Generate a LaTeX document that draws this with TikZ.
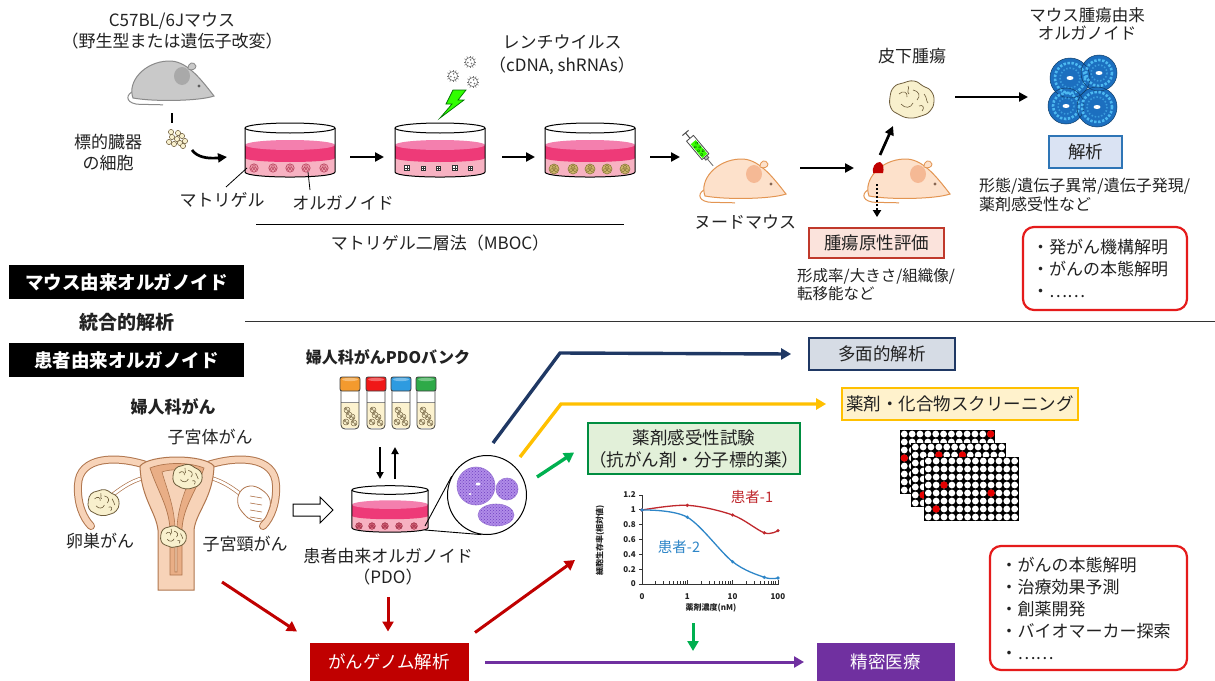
\documentclass[tikz,border=0pt]{standalone}
\usepackage{fontspec}
\setmainfont{Noto Sans CJK JP}
\usetikzlibrary{arrows.meta,calc,patterns}

\definecolor{ink}{HTML}{222222}
\definecolor{navyline}{HTML}{1F3864}
\definecolor{navyfill}{HTML}{D6DCE5}
\definecolor{goldline}{HTML}{FFC000}
\definecolor{goldfill}{HTML}{FFF2CC}
\definecolor{greenline}{HTML}{00B050}
\definecolor{greenfill}{HTML}{E2F0D9}
\definecolor{genomered}{HTML}{C00000}
\definecolor{violet}{HTML}{7030A0}
\definecolor{bluebox}{HTML}{2E75B6}
\definecolor{blueboxfill}{HTML}{DAE3F3}
\definecolor{evalline}{HTML}{C0392B}
\definecolor{evalfill}{HTML}{FBE3DC}
\definecolor{listred}{HTML}{E51B1B}
\definecolor{medium}{HTML}{EE3A78}
\definecolor{mediumtop}{HTML}{F47FAE}
\definecolor{matrigel}{HTML}{F7B2C2}
\definecolor{greyfur}{HTML}{C9C9C9}
\definecolor{greyline}{HTML}{8A8A8A}
\definecolor{greypatch}{HTML}{A9A9A9}
\definecolor{nudeskin}{HTML}{FDE1CB}
\definecolor{nudeline}{HTML}{E39552}
\definecolor{nudepatch}{HTML}{F5B995}
\definecolor{tumourfill}{HTML}{F8F0CD}
\definecolor{tumourline}{HTML}{6E5D3C}
\definecolor{uterusfill}{HTML}{F7D3B8}
\definecolor{uterusline}{HTML}{B0764E}
\definecolor{uteruscav}{HTML}{E9AE86}
\definecolor{orgblue}{HTML}{1C6FBF}
\definecolor{orgbluelight}{HTML}{4CB8F0}
\definecolor{pdopurple}{HTML}{B08CE8}
\definecolor{pdopurpledark}{HTML}{7040C0}
\definecolor{curvered}{HTML}{C0282D}
\definecolor{curveblue}{HTML}{2E86C8}
\definecolor{vialliquid}{HTML}{FCF2CF}
\definecolor{capA}{HTML}{F39A2E}
\definecolor{capB}{HTML}{F01818}
\definecolor{capC}{HTML}{2E9BE0}
\definecolor{capD}{HTML}{2EAA48}
\definecolor{orgpink}{HTML}{F0A0AE}
\definecolor{orgpinkline}{HTML}{B5405C}
\definecolor{orgolive}{HTML}{CDB46A}
\definecolor{orgoliveline}{HTML}{8A7A3A}
\definecolor{orgrose}{HTML}{E8778A}
\definecolor{orgroseline}{HTML}{A03048}

\tikzset{
  lab/.style={font=\fontsize{17}{21}\selectfont, inner sep=0pt, align=center, text=ink},
  labl/.style={lab, align=left},
  bigbar/.style={fill=black, text=white, font=\fontsize{18.5}{22}\selectfont\bfseries,
    minimum width=235pt, minimum height=34pt, inner sep=0pt},
  flow/.style={-{Triangle[length=9pt,width=9pt]}, line width=2.7pt, draw=black},
  cflow/.style={-{Triangle[length=10pt,width=11pt]}, line width=3.4pt, draw=#1},
  tbox/.style n args={2}{draw=#1, fill=#2, line width=1.8pt, inner sep=0pt,
    font=\fontsize{17.5}{22}\selectfont, align=center, text=ink},
  listbox/.style={draw=listred, line width=2.2pt, rounded corners=11pt, inner sep=0pt,
    font=\fontsize{17}{22}\selectfont, align=left, text=ink},
  chartlab/.style={font=\fontsize{8}{9}\selectfont\bfseries, inner sep=0pt, text=ink},
  % a cartoon mouse facing right: fur, outline, ear patch
  pics/mouse/.style n args={3}{code={
    \draw[#2, line width=1pt] (4,31) .. controls (-4,34) and (-5,42) .. (6,44)
      .. controls (14,45) and (24,44) .. (33,45);
    \draw[fill=#1, draw=#2, line width=1pt] (3,38) .. controls (-3,22) and (14,2) .. (38,1)
      .. controls (56,0) and (70,18) .. (84,36) .. controls (70,41) and (25,42) .. (3,38) -- cycle;
    \fill[#3] (52,16) ellipse (8 and 9);
    \draw[fill=#1, draw=#2, line width=0.8pt] (58,9) .. controls (58,2) and (64,1) .. (66,6)
      .. controls (66,9) and (62,11) .. (58,9);
    \fill[#3!55!black] (69,26) circle (1.6);
  }},
  % culture dish with medium over a matrigel layer
  pics/dish/.style={code={
    \fill[white] (-45,0) rectangle (45,44);
    \fill[matrigel] (-45,30) rectangle (45,44);
    \fill[matrigel] (0,44) ellipse (45 and 5);
    \fill[medium] (-45,17) rectangle (45,30);
    \fill[medium] (0,30) ellipse (45 and 4);
    \fill[mediumtop] (0,17) ellipse (45 and 5);
    \draw[line width=1pt] (0,0) ellipse (45 and 5);
    \draw[line width=1pt] (-45,0) -- (-45,44) .. controls (-45,50.7) and (45,50.7) .. (45,44) -- (45,0);
  }},
  pics/orgd/.style n args={3}{code={
    \draw[fill=#1, draw=#2, line width=0.6pt] (0,0) circle (#3);
    \foreach \a in {30,150,270}{\draw[#2, line width=0.45pt] (\a:{#3*0.45}) circle ({#3*0.36});}
  }},
  pics/tumour/.style={code={
    \draw[fill=tumourfill, draw=tumourline, line width=0.8pt] plot[smooth cycle, tension=0.8]
      coordinates {(-21,-3) (-17,-13) (-8,-17) (3,-19) (12,-14) (20,-9) (23,1) (19,11) (10,16) (-2,18) (-13,14) (-20,8)};
    \draw[tumourline, line width=0.6pt] (-12,-6) .. controls (-8,-10) and (-3,-8) .. (-4,-3);
    \draw[tumourline, line width=0.6pt] (2,-10) .. controls (8,-9) and (10,-4) .. (6,0);
    \draw[tumourline, line width=0.6pt] (-10,4) .. controls (-6,9) and (0,8) .. (2,3);
    \draw[tumourline, line width=0.6pt] (8,6) .. controls (12,4) and (14,8) .. (11,11);
    \draw[tumourline, line width=0.6pt] (-3,-14) .. controls (-1,-12) and (-5,-8) .. (-2,-6);
    \draw[tumourline, line width=0.6pt] (13,-6) .. controls (16,-3) and (15,1) .. (17,3);
  }},
  pics/virus/.style={code={
    \foreach \a in {0,30,...,330}{\draw[black!55, line width=0.5pt] (\a:4.2) -- (\a:6.4);}
    \draw[black!55, fill=white, line width=0.6pt] (0,0) circle (4.6);
    \foreach \a in {45,165,285}{\fill[black!55] (\a:2.2) circle (0.9);}
  }},
  pics/vial/.style={code={
    \fill[white] (1,13) rectangle (19,51);
    \fill[vialliquid] (1,25) rectangle (19,51);
    \draw[black!45, line width=0.5pt] (1,25) -- (19,25);
    \foreach \ox/\oy in {7/33, 12/40, 6/45, 14/46, 9/38}{
      \draw[fill=tumourfill, draw=tumourline, line width=0.45pt] (\ox,\oy) circle (3);
      \draw[tumourline, line width=0.35pt] (\ox-1,\oy-1) circle (1.1) (\ox+1.2,\oy+0.8) circle (1);
    }
    \draw[black!75, line width=0.8pt, rounded corners=4pt] (1,13) -- (1,52) -- (19,52) -- (19,13);
    \draw[fill=#1, draw=black!75, line width=0.8pt, rounded corners=2pt] (0,0) rectangle (20,14);
    \fill[white, opacity=0.35] (10,2.5) ellipse (8 and 1.6);
  }},
  pics/plate/.style={code={
    \fill[black] (0,0) rectangle (95,64);
    \foreach \i in {0,...,11}{\foreach \j in {0,...,7}{
      \fill[white] ({4.3+7.85*\i},{4+8*\j}) circle (3.4);}}
    \foreach \i/\j in {#1}{\fill[red!90!black] ({4.3+7.85*\i},{4+8*\j}) circle (3.7);}
  }},
}

\begin{document}
\begin{tikzpicture}[x=1pt,y=-1pt]
\useasboundingbox (0,0) rectangle (1215,680);
\fill[white] (0,0) rectangle (1215,680);

%% ---------------- mouse-derived organoids (top) ----------------
\node[lab] (mouseTitle) at (172,31) {C57BL/6Jマウス\\（野生型または遺伝子改変）};
\pic (greymouse) at (130,60) {mouse={greyfur}{greyline}{greypatch}};
\coordinate (tickTop) at (172,113);
\coordinate (tickBot) at (172,123);
\draw[line width=2.7pt] (tickTop) -- (tickBot);
\foreach \ox/\oy in {0/0,5/-3,-5/-2,3/4,-3/5,8/2,-8/3,1/-6,6/7,-6/-7}{
  \draw[fill=tumourfill, draw=tumourline, line width=0.5pt] (177+\ox,139+\oy) circle (2.6);}
\node[lab] (organCells) at (108,153) {標的臓器\\の細胞};
\coordinate (cellsOut) at (192,150);
\coordinate (dishOneIn) at (227,157);
\draw[flow] (cellsOut) .. controls (197,157) and (207,159) .. (dishOneIn);

\pic (dishOne) at (290,128) {dish};
\foreach \ox in {-36,-17,0,16,34}{\pic at (290+\ox,168) {orgd={orgpink}{orgpinkline}{4.2}};}
\pic (dishTwo) at (440,128) {dish};
\foreach \ox/\s in {-33/2.3,-17/2,-2/1.8,15/2.4,30/2.2}{
  \draw[fill=white, draw=black!80, line width=0.5pt] (440+\ox-\s,168-\s) rectangle (440+\ox+\s,168+\s);
  \draw[black!80, line width=0.4pt] (440+\ox,168-\s) -- (440+\ox,168+\s) (440+\ox-\s,168) -- (440+\ox+\s,168);}
\pic (dishThree) at (590,128) {dish};
\foreach \ox in {-36,-17,0,17,35}{\pic at (590+\ox,169) {orgd={orgolive}{orgoliveline}{5}};}

\node[lab] (matrigelLbl) at (222,200) {マトリゲル};
\coordinate (matrigelTip) at (247,168);
\draw[line width=0.8pt] (226,187) -- (matrigelTip);
\node[lab] (organoidLbl) at (343,203) {オルガノイド};
\coordinate (organoidTip) at (308,172);
\draw[line width=0.8pt] (310,190) -- (organoidTip);

\coordinate (dOneOut) at (350,157);  \coordinate (dTwoIn) at (384,157);
\coordinate (dTwoOut) at (502,157);  \coordinate (dThreeIn) at (535,157);
\coordinate (dThreeOut) at (650,157); \coordinate (nudeIn) at (680,157);
\draw[flow] (dOneOut) -- (dTwoIn);
\draw[flow] (dTwoOut) -- (dThreeIn);
\draw[flow] (dThreeOut) -- (nudeIn);

\coordinate (mbocL) at (256,224); \coordinate (mbocR) at (624,224);
\draw[line width=1pt] (mbocL) -- (mbocR);
\node[lab] (mbocLbl) at (440,243) {マトリゲル二層法（MBOC）};

\node[lab] (lentiLbl) at (562,55) {レンチウイルス\\[2pt]（cDNA, shRNAs）};
\pic at (470,62) {virus};
\pic at (453,76) {virus};
\pic at (473,82) {virus};
\draw[fill=green!75!lime, draw=green!45!black, line width=0.7pt]
  (453,90) -- (466,90) -- (458,100) -- (464,100) -- (440,118) -- (452,104) -- (446,104) -- cycle;

% syringe
\begin{scope}[shift={(699,149)}, rotate=-50]
  \draw[black!70, line width=1pt] (-21,-4) -- (-21,4);
  \draw[black!70, line width=1pt] (-21,0) -- (-14,0);
  \draw[fill=white, draw=black!70, line width=0.8pt] (-14,-4.5) rectangle (10,4.5);
  \fill[green!70!lime] (-9,-3.3) rectangle (9,3.3);
  \foreach \q in {-6,-1,4}{\draw[green!40!black, line width=0.4pt] (\q,-2) circle (1.3) (\q+2,1.5) circle (1.2);}
  \draw[fill=black!30, draw=black!70, line width=0.6pt] (10,-2) rectangle (13,2);
  \draw[black!60, line width=0.8pt] (13,0) -- (22,0);
\end{scope}

\pic (nudeOne) at (702,158) {mouse={nudeskin}{nudeline}{nudepatch}};
\node[lab] (nudeLbl) at (745,222) {ヌードマウス};
\coordinate (nudeOneOut) at (800,168); \coordinate (nudeTwoIn) at (854,168);
\draw[flow] (nudeOneOut) -- (nudeTwoIn);

\pic (nudeTwo) at (866,158) {mouse={nudeskin}{nudeline}{nudepatch}};
\fill[genomered] (873,173) .. controls (872,167) and (875,162) .. (880,162) .. controls (884,164) and (884,169) .. (883,173) -- cycle;

\pic (subcut) at (911,100) {tumour};
\node[lab] (subcutLbl) at (912,56) {皮下腫瘍};
\coordinate (nudeTwoUp) at (880,155); \coordinate (subcutIn) at (893,126);
\draw[flow] (nudeTwoUp) -- (subcutIn);
\coordinate (nudeTwoDown) at (877,184);
\node[tbox={evalline}{evalfill}, minimum width=135pt, minimum height=30pt] (evalBox) at (876.5,243) {腫瘍原性評価};
\draw[-{Triangle[length=7pt,width=8pt]}, line width=2.2pt, dash pattern=on 2pt off 2pt] (nudeTwoDown) -- ($(evalBox.north)+(0.5,-10)$);
\node[labl, anchor=north west, font=\fontsize{15.5}{18.5}\selectfont] (evalTxt) at (797,268) {形成率/大きさ/組織像/\\転移能など};

\coordinate (subcutOut) at (955,97); \coordinate (blueIn) at (1028,97);
\draw[flow] (subcutOut) -- (blueIn);

% mouse tumour-derived organoid
\foreach \cx/\cy/\r in {1070/78/20, 1099/73/18, 1066/106/18, 1097/107/20}{
  \fill[orgblue] (\cx,\cy) circle (\r);}
\foreach \cx/\cy/\r in {1070/78/20, 1099/73/18, 1066/106/18, 1097/107/20}{
  \draw[orgbluelight, line width=2.6pt, dash pattern=on 2.4pt off 1.6pt] (\cx,\cy) circle ({\r-5});
  \draw[orgbluelight!60!orgblue, line width=1.6pt, dash pattern=on 1.5pt off 1.8pt] (\cx,\cy) circle ({\r-10});
  \draw[orgblue!55!black, line width=0.5pt] (\cx,\cy) circle (\r);
  \fill[white] (\cx,\cy) ellipse (3.5 and 2);}
\node[lab, font=\fontsize{16.5}{18.5}\selectfont] (blueLbl) at (1087,24) {マウス腫瘍由来\\オルガノイド};
\node[tbox={bluebox}{blueboxfill}, minimum width=73pt, minimum height=32pt] (analysisBox) at (1085.5,152) {解析};
\node[labl, anchor=north west, font=\fontsize{16}{18.5}\selectfont] (analysisTxt) at (979,178) {形態/遺伝子異常/遺伝子発現/\\薬剤感受性など};
\node[listbox, minimum width=164pt, minimum height=83pt, text width=146pt] (mouseUses) at (1105,268.5)
  {・発がん機構解明\\・がんの本態解明\\・……};

%% ---------------- section bars ----------------
\node[bigbar] (mouseBar) at (126.5,282) {マウス由来オルガノイド};
\node[lab, font=\fontsize{19}{22}\selectfont\bfseries] (integLbl) at (127,322) {統合的解析};
\coordinate (sepL) at (245,321); \coordinate (sepR) at (1215,321);
\draw[line width=1pt, black!80] (sepL) -- (sepR);
\node[bigbar] (patientBar) at (126.5,360) {患者由来オルガノイド};

%% ---------------- patient-derived organoids (bottom) ----------------
\node[lab, font=\fontsize{17}{21}\selectfont\bfseries] (gynLbl) at (173,407) {婦人科がん};
\node[lab] (endoLbl) at (210,437) {子宮体がん};
\node[lab] (ovaryLbl) at (100,541) {卵巣がん};
\node[lab] (cervixLbl) at (245,544) {子宮頸がん};

% uterus with tubes and ovaries
\foreach \s in {1,-1}{
  \begin{scope}[shift={(177,0)}, xscale=\s]
    \draw[uterusline, line width=8pt, line cap=round] (-28,466) .. controls (-60,455) and (-98,456) .. (-99,485)
      .. controls (-100,503) and (-94,518) .. (-86,526);
    \draw[uterusfill, line width=6pt, line cap=round] (-28,466) .. controls (-60,455) and (-98,456) .. (-99,485)
      .. controls (-100,503) and (-94,518) .. (-86,526);
    \draw[uterusline, line width=4pt] (-34,478) .. controls (-48,482) and (-58,490) .. (-66,496);
    \draw[white, line width=2.6pt] (-34,478) .. controls (-48,482) and (-58,490) .. (-66,496);
  \end{scope}}
\draw[fill=white, draw=uterusline, line width=0.8pt] plot[smooth cycle, tension=0.7]
  coordinates {(240,492) (250,486) (262,490) (270,500) (268,512) (262,521) (252,520) (244,514) (238,504)};
\foreach \fy in {496,503,510,517}{\draw[uterusline, line width=0.6pt] (250,\fy) -- (262,\fy+2);}
\draw[fill=uterusfill, draw=uterusline, line width=1pt]
  (140,466) .. controls (150,454) and (204,454) .. (214,466)
  .. controls (213,498) and (196,512) .. (194,530) -- (194,590) -- (158,590) -- (158,530)
  .. controls (156,512) and (141,498) .. (140,466) -- cycle;
\draw[fill=uteruscav, draw=uterusline, line width=0.7pt]
  (150,468) .. controls (165,462) and (189,462) .. (204,468)
  .. controls (196,492) and (184,505) .. (182,528) -- (182,575) -- (170,575) -- (170,528)
  .. controls (168,505) and (158,492) .. (150,468) -- cycle;
\draw[fill=uterusfill, draw=uterusline, line width=0.6pt]
  (162,472) .. controls (170,469) and (184,469) .. (192,472)
  .. controls (186,490) and (178,505) .. (177,528) -- (177,572) -- (175,572) -- (175,528)
  .. controls (174,505) and (167,490) .. (162,472) -- cycle;
\pic[scale=0.7] (ovaryTumour) at (103,503) {tumour};
\pic[scale=0.66] (endoTumour) at (187,477) {tumour};
\pic[scale=0.58] (cervixTumour) at (173,537) {tumour};

% open arrow towards the organoid culture
\draw[fill=white, line width=1pt] (293,504) -- (320,504) -- (320,497) -- (333,510) -- (320,523) -- (320,516) -- (293,516) -- cycle;

% PDO bank
\node[lab, font=\fontsize{16}{20}\selectfont\bfseries] (bankLbl) at (388,357) {婦人科がんPDOバンク};
\pic (vialA) at (340,377) {vial=capA};
\pic (vialB) at (366,377) {vial=capB};
\pic (vialC) at (391,377) {vial=capC};
\pic (vialD) at (416,377) {vial=capD};
\coordinate (bankDownA) at (380,447); \coordinate (bankDownB) at (380,479);
\coordinate (bankUpA) at (395,479);   \coordinate (bankUpB) at (395,447);
\draw[-{Triangle[length=7pt,width=7pt]}, line width=2pt] (bankDownA) -- (bankDownB);
\draw[-{Triangle[length=7pt,width=7pt]}, line width=2pt] (bankUpA) -- (bankUpB);

\pic[xscale=0.845, yscale=0.86] (pdoDish) at (390,490) {dish};
\foreach \ox in {-31,-18,-5,9,24}{\pic at (390+\ox,526) {orgd={orgrose}{orgroseline}{3.3}};}

% magnified view
\node[circle, draw, line width=1pt, fill=white, minimum size=79pt, inner sep=0pt] (lens) at (487,495) {};
\coordinate (pdoEdgeA) at (425,526); \coordinate (pdoEdgeB) at (425,530);
\draw[line width=0.9pt] (pdoEdgeA) -- (lens.152);
\draw[line width=0.9pt] (pdoEdgeB) -- (lens.262);
\fill[pdopurple] (476,486) circle (19);
\fill[pdopurple] (507,489) circle (11);
\fill[pdopurple] (496,515) ellipse (18 and 11);
\fill[pattern=crosshatch dots, pattern color=pdopurpledark] (476,486) circle (19);
\fill[pattern=crosshatch dots, pattern color=pdopurpledark] (507,489) circle (11);
\fill[pattern=crosshatch dots, pattern color=pdopurpledark] (496,515) ellipse (18 and 11);
\draw[pdopurpledark!70, line width=0.6pt] (476,486) circle (19) (507,489) circle (11) (496,515) ellipse (18 and 11);
\fill[white] (478,484) ellipse (2.5 and 1.5);
\fill[white] (470,494) ellipse (1.5 and 1);

\node[lab] (pdoLbl) at (388,567) {患者由来オルガノイド\\（PDO）};

% genome analysis and precision medicine
\node[tbox={genomered}{genomered}, text=white, line width=0pt, minimum width=158pt, minimum height=37pt] (genomeBox) at (389,662) {がんゲノム解析};
\node[tbox={violet}{violet}, text=white, line width=0pt, minimum width=137pt, minimum height=37pt] (precisionBox) at (885.5,662) {精密医療};
\coordinate (uterusOut) at (222,582);
\draw[cflow=genomered, line width=3pt] (uterusOut) -- ($(genomeBox.north west)+(-13,-12)$);
\coordinate (pdoOut) at (388,597);
\draw[cflow=genomered, line width=3pt] (pdoOut) -- ($(genomeBox.north)+(-1,-12)$);
\coordinate (chartIn) at (575,560);
\draw[cflow=genomered, line width=3pt] ($(genomeBox.north east)+(7,-11)$) -- (chartIn);
\draw[cflow=violet, line width=3pt] ($(genomeBox.east)+(17,0)$) -- ($(precisionBox.west)+(-13,0)$);

% analyses branching from the organoids
\node[tbox={navyline}{navyfill}, minimum width=146pt, minimum height=32pt] (multiBox) at (882,354) {多面的解析};
\node[tbox={goldline}{goldfill}, minimum width=236pt, minimum height=32pt] (screenBox) at (960,404) {薬剤・化合物スクリーニング};
\node[tbox={greenline!80!black}{greenfill}, minimum width=212pt, minimum height=51pt] (drugBox) at (694,448.5) {薬剤感受性試験\\（抗がん剤・分子標的薬）};
\coordinate (lensNavy) at (493,443);
\coordinate (lensGold) at (520,457);
\coordinate (lensGreen) at (537,477);
\draw[cflow=navyline] (lensNavy) -- (560,353) -- ($(multiBox.west)+(-17,0)$);
\draw[cflow=goldline] (lensGold) -- (561,404) -- ($(screenBox.west)+(-15,0)$);
\draw[cflow=greenline] (lensGreen) -- ($(drugBox.west)+(-13,4)$);

% dose-response chart
\coordinate (axOrigin) at (642,584);
\draw[line width=1pt, black!80] (642,495) -- (axOrigin) -- (779,584);
\foreach \v [count=\i] in {0,0.2,0.4,0.6,0.8,1,1.2}{
  \draw[line width=0.8pt, black!80] (642,{584-74.2*\v}) -- (639,{584-74.2*\v});
  \node[chartlab, anchor=east] (ytick\i) at (636,{584-74.2*\v}) {\v};}
\foreach \d in {0,1,2}{\foreach \k in {2,...,9}{
  \draw[line width=0.7pt, black!80] ({642+45.3*(\d+log10(\k))},584) -- ++(0,-3);}}
\foreach \v/\t [count=\i] in {0/0,1/1,2/10,3/100}{
  \draw[line width=0.8pt, black!80] ({642+45.3*\v},584) -- ++(0,-4);
  \node[chartlab] (xtick\i) at ({642+45.3*\v},597) {\t};}
\node[chartlab, rotate=90] (yTitle) at (600,540) {細胞生存率(相対値)};
\node[chartlab] (xTitle) at (711,608) {薬剤濃度(nM)};
\draw[curvered, line width=1.3pt] plot[smooth, tension=0.55] coordinates {(642,510) (687.3,505.3) (732.6,515) (764.3,532.8) (778,530.6)};
\foreach \p in {(642,510),(687.3,505.3),(732.6,515),(764.3,532.8),(778,530.6)}{\fill[curvered] \p circle (1.8);}
\draw[curveblue, line width=1.3pt] plot[smooth, tension=0.55] coordinates {(642,510) (687.3,517.2) (732.6,561.7) (764.3,577.3) (778,578)};
\foreach \p in {(642,510),(687.3,517.2),(732.6,561.7),(764.3,577.3),(778,578)}{\fill[curveblue] \p circle (1.8);}
\node[lab, text=curvered, font=\fontsize{14.5}{17}\selectfont] (patOne) at (752,497) {患者-1};
\node[lab, text=curveblue, font=\fontsize{14.5}{17}\selectfont] (patTwo) at (679,547) {患者-2};
\coordinate (chartDownA) at (693,623); \coordinate (chartDownB) at (693,651);
\draw[cflow=greenline, line width=3pt] (chartDownA) -- (chartDownB);

% screening plates
\pic (plateA) at (900,430) {plate={11/0,0/3}};
\pic (plateB) at (911,443) {plate={3/1,6/1,1/6}};
\pic (plateC) at (924,457) {plate={2/3,8/4,1/6}};

\node[listbox, minimum width=197pt, minimum height=124pt, text width=176pt] (pdoUses) at (1088.5,608)
  {・がんの本態解明\\・治療効果予測\\・創薬開発\\・バイオマーカー探索\\・……};
\end{tikzpicture}
\end{document}
